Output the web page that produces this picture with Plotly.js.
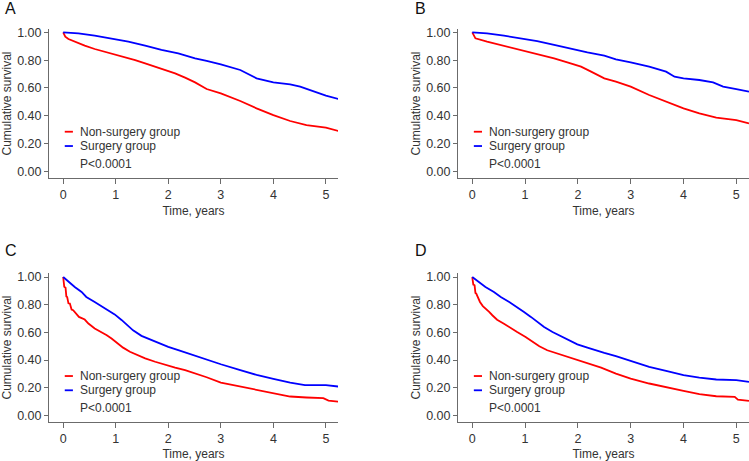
<!DOCTYPE html>
<html>
<head>
<meta charset="utf-8">
<script src="https://cdn.plot.ly/plotly-3.0.1.min.js"></script>
<style>html,body{margin:0;padding:0;background:#fff}#chart{width:749px;height:461px}</style>
</head>
<body>
<div id="chart"></div>
<script>
// Panel labels and group names
const panels = ["A", "B", "C", "D"];
const groupNames = ["Non-surgery group", "Surgery group"];
const pText = "P<0.0001";
const xTicks = [0, 1, 2, 3, 4, 5];
const yTicks = [0, 0.2, 0.4, 0.6, 0.8, 1.0];

// Panel A
const timeA_non = [0, 0.04, 0.1, 0.22, 0.41, 0.6, 0.79, 0.98, 1.17, 1.37, 1.56, 1.75, 1.94, 2.13, 2.32, 2.51, 2.73, 3.0, 3.37, 3.68, 4.0, 4.32, 4.63, 5.0, 5.24];
const survA_non = [1.0, 0.969, 0.952, 0.933, 0.904, 0.88, 0.861, 0.842, 0.825, 0.80, 0.777, 0.753, 0.729, 0.705, 0.674, 0.64, 0.592, 0.561, 0.506, 0.453, 0.405, 0.362, 0.333, 0.314, 0.29];
const timeA_sur = [0, 0.29, 0.6, 0.92, 1.24, 1.56, 1.87, 2.19, 2.51, 2.73, 3.0, 3.37, 3.68, 4.0, 4.32, 4.51, 4.76, 5.0, 5.24];
const survA_sur = [1.0, 0.993, 0.976, 0.957, 0.933, 0.904, 0.873, 0.849, 0.813, 0.794, 0.77, 0.729, 0.669, 0.64, 0.626, 0.609, 0.573, 0.544, 0.52];

// Panel B
const timeB_non = [0, 0.04, 0.06, 0.28, 0.54, 0.79, 1.04, 1.3, 1.55, 1.8, 2.06, 2.25, 2.5, 2.72, 3.0, 3.35, 3.67, 4.0, 4.3, 4.62, 5.0, 5.24];
const survB_non = [1.0, 0.976, 0.957, 0.933, 0.909, 0.885, 0.861, 0.837, 0.813, 0.784, 0.753, 0.717, 0.669, 0.645, 0.609, 0.549, 0.501, 0.453, 0.417, 0.386, 0.369, 0.345];
const timeB_sur = [0, 0.28, 0.6, 0.92, 1.23, 1.55, 1.87, 2.18, 2.5, 2.72, 3.0, 3.35, 3.67, 3.83, 4.0, 4.3, 4.56, 4.75, 5.0, 5.24];
const survB_sur = [1.0, 0.993, 0.976, 0.957, 0.937, 0.909, 0.88, 0.856, 0.832, 0.806, 0.784, 0.753, 0.717, 0.681, 0.669, 0.657, 0.64, 0.609, 0.592, 0.573];

// Panel C
const timeC_non = [0, 0.02, 0.045, 0.06, 0.076, 0.1, 0.127, 0.16, 0.19, 0.25, 0.3, 0.41, 0.48, 0.6, 0.73, 0.83, 0.92, 1.02, 1.14, 1.27, 1.4, 1.56, 1.75, 1.94, 2.13, 2.32, 2.51, 2.73, 3.0, 3.37, 3.68, 4.0, 4.32, 4.63, 4.95, 5.05, 5.24];
const survC_non = [1.0, 0.93, 0.923, 0.86, 0.856, 0.81, 0.808, 0.765, 0.76, 0.736, 0.712, 0.693, 0.664, 0.628, 0.604, 0.58, 0.556, 0.525, 0.49, 0.46, 0.436, 0.412, 0.388, 0.364, 0.345, 0.328, 0.305, 0.276, 0.237, 0.209, 0.185, 0.156, 0.137, 0.13, 0.125, 0.108, 0.10];
const timeC_sur = [0, 0.1, 0.22, 0.35, 0.44, 0.6, 0.76, 0.89, 0.98, 1.11, 1.21, 1.33, 1.49, 1.68, 1.84, 2.0, 2.19, 2.38, 2.6, 3.0, 3.37, 3.68, 4.0, 4.32, 4.6, 5.0, 5.24];
const survC_sur = [1.0, 0.964, 0.928, 0.892, 0.856, 0.82, 0.784, 0.755, 0.73, 0.69, 0.655, 0.615, 0.575, 0.544, 0.52, 0.496, 0.472, 0.448, 0.415, 0.37, 0.328, 0.293, 0.265, 0.237, 0.22, 0.22, 0.209];

// Panel D
const timeD_non = [0, 0.02, 0.044, 0.06, 0.076, 0.13, 0.146, 0.2, 0.22, 0.32, 0.38, 0.47, 0.6, 0.73, 0.85, 1.01, 1.14, 1.27, 1.42, 1.61, 1.8, 1.99, 2.18, 2.44, 2.72, 3.0, 3.35, 3.67, 4.0, 4.3, 4.62, 4.97, 5.03, 5.24];
const survD_non = [1.0, 0.945, 0.94, 0.885, 0.88, 0.825, 0.82, 0.79, 0.784, 0.748, 0.724, 0.692, 0.663, 0.635, 0.603, 0.567, 0.531, 0.50, 0.471, 0.447, 0.423, 0.399, 0.375, 0.345, 0.303, 0.267, 0.231, 0.207, 0.178, 0.154, 0.139, 0.135, 0.115, 0.106];
const timeD_sur = [0, 0.13, 0.25, 0.41, 0.54, 0.7, 0.85, 0.98, 1.11, 1.23, 1.36, 1.52, 1.68, 1.84, 1.99, 2.18, 2.37, 2.5, 2.72, 3.0, 3.35, 3.67, 4.0, 4.3, 4.62, 5.0, 5.24];
const survD_sur = [1.0, 0.964, 0.928, 0.892, 0.856, 0.82, 0.784, 0.748, 0.712, 0.675, 0.639, 0.603, 0.572, 0.543, 0.514, 0.49, 0.466, 0.452, 0.428, 0.394, 0.351, 0.322, 0.291, 0.274, 0.26, 0.255, 0.243];

const series = [
  [timeA_non, survA_non, timeA_sur, survA_sur],
  [timeB_non, survB_non, timeB_sur, survB_sur],
  [timeC_non, survC_non, timeC_sur, survC_sur],
  [timeD_non, survD_non, timeD_sur, survD_sur]
];

const W = 749, H = 461;
const RED = "#ff0000", BLUE = "#0000ff";
const axisCol = "#6b6b6b", txtCol = "#333333";
const FONT = "Liberation Sans, Arial, Helvetica, sans-serif";

// panel geometry in pixels: [left, right, top, bottom], x-range, y-range
const geo = [
  {l: 49, r: 338, t: 29, b: 178, xr: [-0.27, 5.23], yr: [-0.048, 1.024], lx: 3, ly: 9},
  {l: 458, r: 749, t: 29, b: 178, xr: [-0.27, 5.24], yr: [-0.048, 1.024], lx: 413, ly: 9},
  {l: 49, r: 338, t: 273, b: 422, xr: [-0.27, 5.23], yr: [-0.047, 1.029], lx: 3, ly: 250},
  {l: 458, r: 749, t: 273, b: 422, xr: [-0.27, 5.24], yr: [-0.047, 1.029], lx: 413, ly: 250}
];

const data = [];
const layout = {
  width: W, height: H,
  margin: {l: 0, r: 0, t: 0, b: 0},
  paper_bgcolor: "#fff", plot_bgcolor: "#fff",
  showlegend: false,
  font: {family: FONT, color: txtCol, size: 12},
  annotations: [], shapes: []
};

geo.forEach((g, i) => {
  const n = i === 0 ? "" : String(i + 1);
  const xa = "x" + n, ya = "y" + n;
  const s = series[i];
  data.push({x: s[0], y: s[1], xaxis: xa, yaxis: ya, type: "scatter", mode: "lines",
    line: {color: RED, width: 1.8, shape: "linear"}, name: groupNames[0], hoverinfo: "skip"});
  data.push({x: s[2], y: s[3], xaxis: xa, yaxis: ya, type: "scatter", mode: "lines",
    line: {color: BLUE, width: 1.8, shape: "linear"}, name: groupNames[1], hoverinfo: "skip"});

  layout["xaxis" + n] = {
    domain: [g.l / W, g.r / W], anchor: ya, range: g.xr,
    tickvals: xTicks, ticks: "outside", ticklen: 5, tickcolor: axisCol, tickwidth: 1,
    showline: true, linecolor: axisCol, linewidth: 1, showgrid: false, zeroline: false,
    tickfont: {size: 12.5, color: txtCol, family: FONT},
    title: {text: "Time, years", font: {size: 12, color: txtCol, family: FONT}, standoff: 5}
  };
  layout["yaxis" + n] = {
    domain: [1 - g.b / H, 1 - g.t / H], anchor: xa, range: g.yr,
    tickvals: yTicks, tickformat: ".2f", ticks: "outside", ticklen: 4, tickcolor: axisCol, tickwidth: 1,
    showline: true, linecolor: axisCol, linewidth: 1, showgrid: false, zeroline: false,
    tickfont: {size: 12.5, color: txtCol, family: FONT},
    title: {text: "Cumulative survival", font: {size: 12, color: txtCol, family: FONT}, standoff: 2}
  };

  // panel letter
  layout.annotations.push({xref: "paper", yref: "paper", x: g.lx / W, y: 1 - g.ly / H,
    xanchor: "left", yanchor: "middle", text: panels[i], showarrow: false,
    font: {size: 16, color: "#111", family: FONT}});

  // legend block inside plot
  const legY = [0.285, 0.182];
  const cols = [RED, BLUE];
  for (let k = 0; k < 2; k++) {
    layout.shapes.push({type: "line", xref: xa, yref: ya, x0: 0.03, x1: 0.185, y0: legY[k], y1: legY[k],
      line: {color: cols[k], width: 1.8}});
    layout.annotations.push({xref: xa, yref: ya, x: 0.28, y: legY[k], xanchor: "left", yanchor: "middle",
      text: groupNames[k], showarrow: false, font: {size: 12, color: txtCol, family: FONT}});
  }
  layout.annotations.push({xref: xa, yref: ya, x: 0.28, y: 0.053, xanchor: "left", yanchor: "middle",
    text: pText, showarrow: false, font: {size: 12, color: txtCol, family: FONT}});
});

Plotly.newPlot("chart", data, layout, {staticPlot: true, displayModeBar: false});
</script>
</body>
</html>
